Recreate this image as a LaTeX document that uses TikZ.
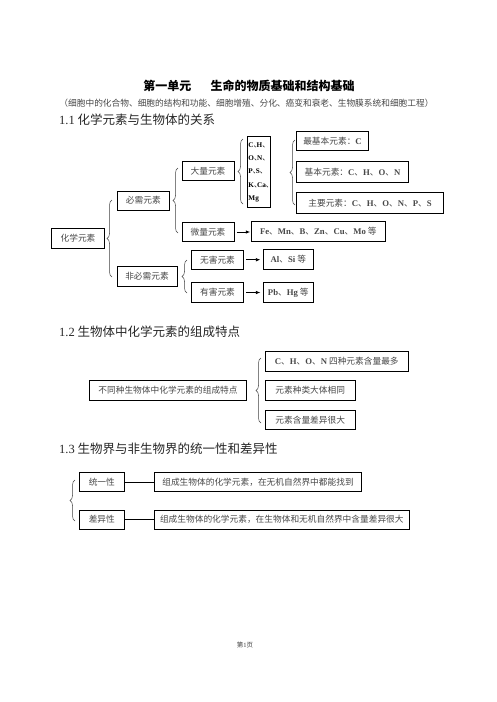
\documentclass[tikz,border=0pt]{standalone}
\usepackage{fontspec}
\setmainfont{Noto Sans CJK SC}
\newfontfamily\tms{Liberation Serif}
\usetikzlibrary{arrows.meta,decorations.pathreplacing}
\newcommand{\el}[1]{{\tms\bfseries #1}}
\newcommand{\dn}{\makebox[0.42em][l]{、}}

\begin{document}
\begin{tikzpicture}[x=1pt,y=-1pt,
		box/.style={draw,line width=0.8pt,inner sep=0pt,minimum height=19.3pt,font=\fontsize{8.7}{10}\selectfont,text=black!72},
		head/.style={anchor=west,inner sep=0pt,font=\fontsize{12.5}{14}\selectfont,text=black!85},
		brc/.style={decorate,decoration={brace,amplitude=5pt},line width=0.5pt,black!75},
		arr/.style={-{Latex[length=4.5pt,width=3.6pt]},line width=0.8pt}]
		\useasboundingbox (0,0) rectangle (496,702);
		% titles
		\node[font=\bfseries\fontsize{12}{14}\selectfont] (title) at (249,85.5) {第一单元\hspace{1.6em}生命的物质基础和结构基础};
		\node[font=\fontsize{8.7}{10}\selectfont,text=black!72] (sub) at (246.5,103.5) {（细胞中的化合物、细胞的结构和功能、细胞增殖、分化、癌变和衰老、生物膜系统和细胞工程）};
		\node[head] (h1) at (59,120) {{\tms 1.1} 化学元素与生物体的关系};
		% 1.1
		\node[box,minimum width=52.6pt,minimum height=20pt] (hx) at (78,238.3) {化学元素};
		\node[box,minimum width=52pt] (bx) at (143.3,200.6) {必需元素};
		\node[box,minimum width=60pt] (fbx) at (147,276.3) {非必需元素};
		\node[box,minimum width=52pt] (dl) at (208,171.2) {大量元素};
		\node[box,minimum width=52pt] (wl) at (208,232) {微量元素};
		\node[box,minimum width=23pt,minimum height=71pt,align=left,font=\fontsize{7.2}{13.3}\selectfont,text=black] (dlys) at (258.7,172.2)
			{\el{C}\dn\el{H}\dn\\\el{O}\dn\el{N}\dn\\\el{P}\dn\el{S}\dn\\\el{K}\dn\el{Ca}\dn\\\el{Mg}};
		\node[box,minimum width=71.6pt] (zjb) at (332.5,141.2) {最基本元素：\el{C}};
		\node[box,minimum width=111.6pt,minimum height=20.6pt] (jb) at (352.5,172) {基本元素：\el{C}、\el{H}、\el{O}、\el{N}};
		\node[box,minimum width=146.6pt,minimum height=20.6pt] (zy) at (370,203) {主要元素：\el{C}、\el{H}、\el{O}、\el{N}、\el{P}、\el{S}};
		\node[box,minimum width=133.3pt] (wlys) at (318.3,231.3) {\el{Fe}、\el{Mn}、\el{B}、\el{Zn}、\el{Cu}、\el{Mo} 等};
		\node[box,minimum width=51.6pt] (wh) at (217.5,259.7) {无害元素};
		\node[box,minimum width=51.6pt,minimum height=19.6pt] (yh) at (217.5,292.5) {有害元素};
		\node[box,minimum width=50pt,minimum height=20pt] (al) at (288.3,259.3) {\el{Al}、\el{Si} 等};
		\node[box,minimum width=50pt,minimum height=19.6pt] (pb) at (288.3,292.5) {\el{Pb}、\el{Hg} 等};
		\draw[brc] (112,277) -- (112,200);
		\draw[brc] (178,233) -- (178,168);
		\draw[brc] (243,204) -- (243,139);
		\draw[brc] (295,205) -- (295,140);
		\draw[brc] (187,293) -- (187,260);
		\draw[arr,shorten <=2.5pt,shorten >=1pt] (wl.east) -- (wl.east -| wlys.west);
		\draw[arr,shorten <=2.5pt,shorten >=2.5pt] (wh.east) -- (wh.east -| al.west);
		\draw[arr,shorten <=2.5pt,shorten >=2.5pt] (yh.east) -- (yh.east -| pb.west);
		% 1.2
		\node[head] (h2) at (59,331.5) {{\tms 1.2} 生物体中化学元素的组成特点};
		\node[box,minimum width=157.4pt] (tdt) at (168,390.3) {不同种生物体中化学元素的组成特点};
		\node[box,minimum width=143pt,minimum height=20.7pt] (zc1) at (336.8,361.3) {\el{C}、\el{H}、\el{O}、\el{N} 四种元素含量最多};
		\node[box,minimum width=89.7pt] (zc2) at (310.2,390.3) {元素种类大体相同};
		\node[box,minimum width=89.7pt] (zc3) at (310.2,419.7) {元素含量差异很大};
		\draw[brc] (261,423) -- (261,358);
		% 1.3
		\node[head] (h3) at (59,449) {{\tms 1.3} 生物界与非生物界的统一性和差异性};
		\node[box,minimum width=45pt,minimum height=19pt] (tyx) at (101.8,482.2) {统一性};
		\node[box,minimum width=45pt,minimum height=19pt] (cyx) at (101.8,519.5) {差异性};
		\node[box,minimum width=207.4pt,minimum height=19pt] (tyx2) at (258,482.2) {组成生物体的化学元素，在无机自然界中都能找到};
		\node[box,minimum width=255pt,minimum height=19pt] (cyx2) at (281.8,519.5) {组成生物体的化学元素，在生物体和无机自然界中含量差异很大};
		\draw[brc] (75,521) -- (75,480);
		\draw[line width=0.8pt] (tyx.east) -- (tyx2.west);
		\draw[line width=0.8pt] (cyx.east) -- (cyx2.west);
		% page
		\node[font=\fontsize{6.5}{8}\selectfont,text=black!75] (pg) at (245,645) {第{\tms 1}页};
\end{tikzpicture}
\end{document}
